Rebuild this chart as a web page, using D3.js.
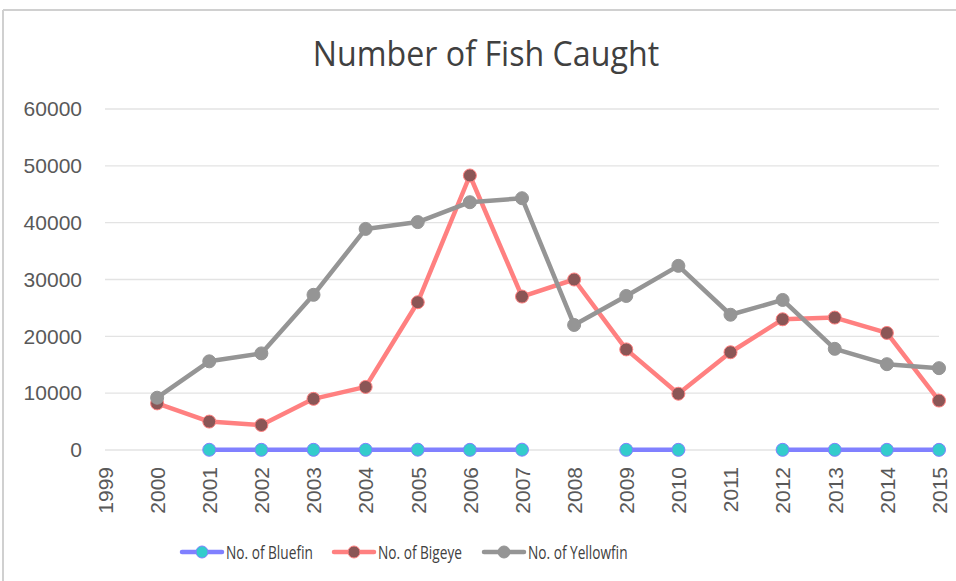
<!DOCTYPE html>
<html>
<head>
<meta charset="utf-8">
<script src="https://cdn.jsdelivr.net/npm/d3@7"></script>
<style>
  body { margin: 0; background: #fff; }
  svg { display: block; }
</style>
</head>
<body>
<svg class="svg_chart" width="956" height="581"></svg>
<script>
// values (null = no data point)
var years = ["1999","2000","2001","2002","2003","2004","2005","2006","2007","2008","2009","2010","2011","2012","2013","2014","2015"];
var bluefin = [null, null, 40, 30, 30, 30, 60, 30, 60, null, 30, 30, null, 30, 30, 30, 30];
var bigeye = [null, 8200, 5000, 4400, 9000, 11100, 26000, 48300, 27000, 30000, 17700, 9900, 17200, 23000, 23300, 20600, 8700];
var yellowfin = [null, 9200, 15600, 17000, 27300, 38900, 40100, 43600, 44300, 22000, 27100, 32400, 23800, 26400, 17800, 15100, 14400];
var yTicks = [0, 10000, 20000, 30000, 40000, 50000, 60000];

var series = [
    {name: "No. of Bluefin", values: bluefin, line: "#8080ff", fill: "#33cccc", stroke: "#8080ff"},
    {name: "No. of Bigeye", values: bigeye, line: "#ff8080", fill: "#8b5656", stroke: "#ff8080"},
    {name: "No. of Yellowfin", values: yellowfin, line: "#959595", fill: "#959595", stroke: "#959595"}
];

var svg = d3.select(".svg_chart"),
    margin = {top: 109, right: 17, bottom: 131, left: 105},
    width = +svg.attr("width") - margin.left - margin.right,
    height = +svg.attr("height") - margin.top - margin.bottom;

// chart frame (only top and left edges show in the picture)
svg.append("line").attr("x1", 3).attr("y1", 10).attr("x2", 956).attr("y2", 10)
    .attr("stroke", "#d0d0d0").attr("stroke-width", 2);
svg.append("line").attr("x1", 3).attr("y1", 10).attr("x2", 3).attr("y2", 581)
    .attr("stroke", "#d0d0d0").attr("stroke-width", 2);

svg.append("text")
    .attr("x", 486).attr("y", 66)
    .attr("text-anchor", "middle")
    .style("font-family", "Open Sans, sans-serif")
    .style("font-size", "35px")
    .attr("fill", "#404040")
    .attr("transform", "translate(486,0) scale(0.92,1) translate(-486,0)")
    .text("Number of Fish Caught");

var g = svg.append("g").attr("transform", "translate(" + margin.left + "," + margin.top + ")");

var x = d3.scalePoint().domain(years).range([0, width]);
var y = d3.scaleLinear().domain([0, 60000]).range([height, 0]);

// gridlines
g.append("g")
    .selectAll("line")
    .data(yTicks)
    .enter().append("line")
    .attr("x1", 0).attr("x2", width)
    .attr("y1", function(d) { return y(d); })
    .attr("y2", function(d) { return y(d); })
    .attr("stroke", "#e3e3e3")
    .attr("stroke-width", 1.3);

// y axis labels
var yAxis = g.append("g")
    .call(d3.axisLeft(y).tickValues(yTicks).tickSize(0).tickPadding(23).tickFormat(d3.format("d")));
yAxis.select(".domain").remove();
yAxis.selectAll("text")
    .style("font-family", "Liberation Sans, Arial, sans-serif")
    .style("font-size", "21px")
    .attr("fill", "#595959");

// x axis labels, rotated
var xAxis = g.append("g")
    .attr("transform", "translate(0," + height + ")")
    .call(d3.axisBottom(x).tickSize(0));
xAxis.select(".domain").remove();
xAxis.selectAll("text")
    .style("font-family", "Liberation Sans, Arial, sans-serif")
    .style("font-size", "21px")
    .attr("fill", "#595959")
    .attr("text-anchor", "end")
    .attr("transform", "rotate(-90)")
    .attr("x", -17)
    .attr("y", 0)
    .attr("dy", "0.35em");

var line = d3.line()
    .defined(function(d) { return d != null; })
    .x(function(d, i) { return x(years[i]); })
    .y(function(d) { return y(d); });

series.forEach(function(s) {
    g.append("path")
        .datum(s.values)
        .attr("fill", "none")
        .attr("stroke", s.line)
        .attr("stroke-width", 4.5)
        .attr("stroke-linejoin", "round")
        .attr("d", line);

    g.selectAll(".dot-" + s.name.replace(/\W/g, ""))
        .data(s.values.map(function(v, i) { return {v: v, year: years[i]}; }).filter(function(d) { return d.v != null; }))
        .enter().append("circle")
        .attr("cx", function(d) { return x(d.year); })
        .attr("cy", function(d) { return y(d.v); })
        .attr("r", 6.5)
        .attr("fill", s.fill)
        .attr("stroke", s.stroke)
        .attr("stroke-width", 1);
});

// legend
var legendX = [182, 334, 484];
var legend = svg.append("g").attr("transform", "translate(0,552)");
series.forEach(function(s, i) {
    var lg = legend.append("g").attr("transform", "translate(" + legendX[i] + ",0)");
    lg.append("line").attr("x1", 0).attr("x2", 40).attr("y1", 0).attr("y2", 0)
        .attr("stroke", s.line).attr("stroke-width", 4.5).attr("stroke-linecap", "round");
    lg.append("circle").attr("cx", 20).attr("cy", 0).attr("r", 6)
        .attr("fill", s.fill).attr("stroke", s.stroke).attr("stroke-width", 1);
    lg.append("text").attr("x", 0).attr("y", 0).attr("dy", "0.35em")
        .style("font-family", "Open Sans, sans-serif")
        .style("font-size", "19px")
        .attr("fill", "#404040")
        .attr("transform", "translate(44,0) scale(0.72,1)")
        .text(s.name);
});
</script>
</body>
</html>
